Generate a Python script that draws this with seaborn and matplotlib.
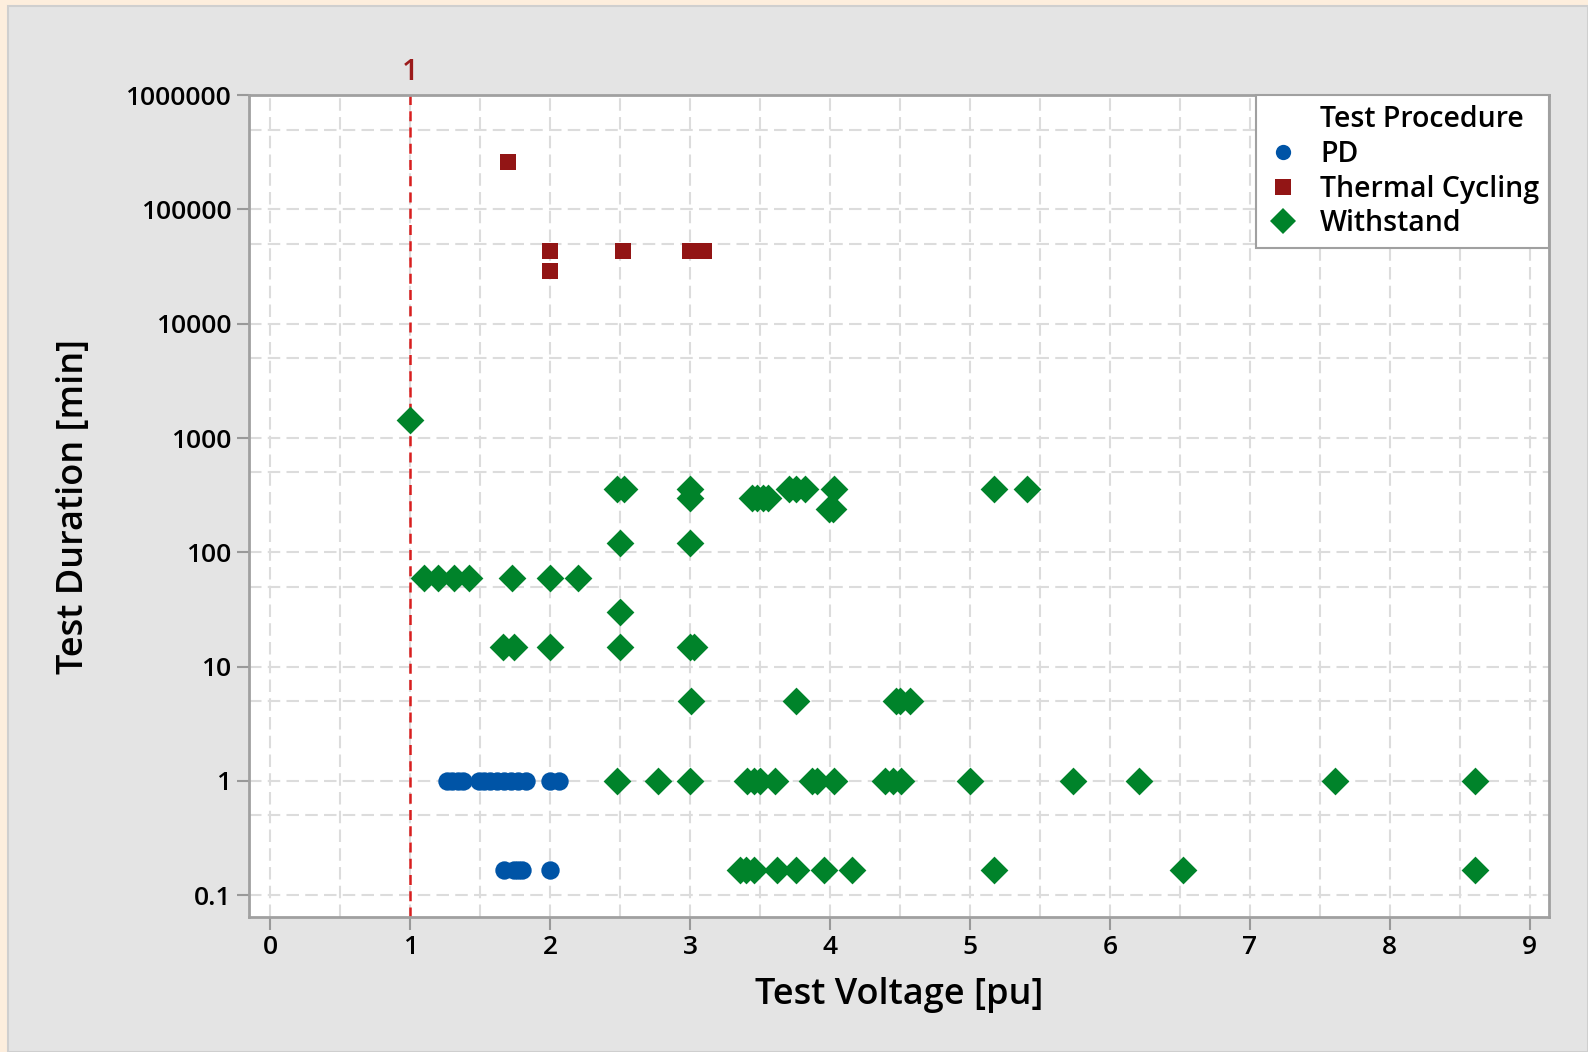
import matplotlib
matplotlib.use("Agg")
import matplotlib.pyplot as plt
import matplotlib.ticker as mticker
from matplotlib.lines import Line2D
from matplotlib.patches import Rectangle
import numpy as np
import pandas as pd
import seaborn as sns

# ---------------- data ----------------
pd_voltage = [1.26, 1.30, 1.34, 1.38, 1.49, 1.53, 1.57, 1.62, 1.67, 1.72, 1.77, 1.83, 2.00, 2.06,
              1.67, 1.74, 1.77, 1.80, 2.00]
pd_duration = [1] * 14 + [0.1667] * 5

tc_voltage = [1.70, 2.00, 2.00, 2.52, 3.00, 3.10]
tc_duration = [262800, 43200, 28800, 43200, 43200, 43200]

ws_voltage = [1.00,
              1.10, 1.20, 1.31, 1.42, 1.73, 2.00, 2.20,
              1.66, 1.74, 2.00, 2.50, 3.00, 3.03,
              2.50,
              2.50, 3.00,
              2.48, 2.53, 3.00, 3.71, 3.76, 3.82, 4.03, 5.17, 5.41,
              3.00, 3.44, 3.48, 3.52, 3.56,
              3.99, 4.02,
              3.01, 3.76, 4.47, 4.50, 4.57,
              2.48, 2.77, 3.00, 3.41, 3.46, 3.50, 3.61, 3.87, 3.91, 4.03, 4.39, 4.45, 4.51,
              5.00, 5.74, 6.21, 7.61, 8.61,
              3.36, 3.40, 3.46, 3.62, 3.76, 3.96, 4.16, 5.17, 6.52, 8.61]
ws_duration = ([1440] + [60] * 7 + [15] * 6 + [30] + [120] * 2 + [360] * 9 + [300] * 5 +
               [240] * 2 + [5] * 5 + [1] * 18 + [0.1667] * 10)

procedures = ["PD", "Thermal Cycling", "Withstand"]
x_ticks = [0, 1, 2, 3, 4, 5, 6, 7, 8, 9]
y_ticks = [0.1, 1, 10, 100, 1000, 10000, 100000, 1000000]
y_tick_labels = ["0.1", "1", "10", "100", "1000", "10000", "100000", "1000000"]
ref_voltage = 1

df = pd.DataFrame({
    "Test Voltage [pu]": pd_voltage + tc_voltage + ws_voltage,
    "Test Duration [min]": pd_duration + tc_duration + ws_duration,
    "Test Procedure": ["PD"] * len(pd_voltage) + ["Thermal Cycling"] * len(tc_voltage)
                      + ["Withstand"] * len(ws_voltage),
})

# ---------------- style ----------------
sns.set_theme(style="white")
plt.rcParams["font.family"] = ["Open Sans", "DejaVu Sans"]
plt.rcParams["font.weight"] = "semibold"
plt.rcParams["text.color"] = "black"
plt.rcParams["axes.labelcolor"] = "black"
plt.rcParams["axes.labelweight"] = "semibold"

colors = {"PD": "#0054a6", "Thermal Cycling": "#921515", "Withstand": "#00832a"}
markers = {"PD": "o", "Thermal Cycling": "s", "Withstand": "D"}
sizes = {"PD": 175, "Thermal Cycling": 140, "Withstand": 200}

fig = plt.figure(figsize=(15.88, 10.52), dpi=100)
fig.patch.set_facecolor("#fdeedd")
bg = Rectangle((8 / 1588, 0), 1 - 8 / 1588, 1 - 6 / 1052, transform=fig.transFigure,
               facecolor="#e4e4e4", edgecolor="#cfcfcf", linewidth=1.5, zorder=-10)
fig.add_artist(bg)
ax = fig.add_axes([0.157, 0.128, 0.8185, 0.7815])
ax.set_zorder(1)
ax.set_facecolor("white")

ax.set_yscale("log")
ax.set_xlim(-0.15, 9.14)
ax.set_ylim(0.064, 1000000)

# grid
grid_kw = dict(color="#dcdcdc", linewidth=1.5, linestyle=(0, (6, 3)), zorder=0.5)
for gx in np.arange(0, 9.01, 0.5):
    ax.axvline(gx, **grid_kw)
for e in range(-1, 6):
    ax.axhline(10.0 ** e, **grid_kw)
    ax.axhline(5 * 10.0 ** e, **grid_kw)

# reference line
ax.axvline(ref_voltage, color="#d81e1e", linewidth=1.8, linestyle=(0, (4, 2.5)), zorder=1)
ax.text(ref_voltage, 1.01, "1", transform=ax.get_xaxis_transform(), ha="center", va="bottom",
        color="#9b1b1b", fontsize=21, fontweight="semibold")

for proc in procedures:
    sub = df[df["Test Procedure"] == proc]
    sns.scatterplot(data=sub, x="Test Voltage [pu]", y="Test Duration [min]", ax=ax,
                    color=colors[proc], marker=markers[proc], s=sizes[proc],
                    linewidth=0, legend=False, zorder=3)

ax.set_xticks(x_ticks)
ax.set_xticklabels([str(t) for t in x_ticks])
ax.yaxis.set_major_locator(mticker.FixedLocator(y_ticks))
ax.yaxis.set_minor_locator(mticker.NullLocator())
ax.set_yticklabels(y_tick_labels)
ax.tick_params(axis="both", which="major", length=9, width=1.5, color="#999999",
               labelsize=19, labelcolor="black", pad=4, direction="out")
ax.tick_params(left=True, bottom=True)
for lbl in ax.get_xticklabels() + ax.get_yticklabels():
    lbl.set_fontweight("semibold")

for sp in ax.spines.values():
    sp.set_color("#a0a0a0")
    sp.set_linewidth(2)

ax.set_xlabel("Test Voltage [pu]", fontsize=26, labelpad=12, fontweight="semibold")
ax.set_ylabel("Test Duration [min]", fontsize=26, labelpad=24, fontweight="semibold")

handles = [Line2D([], [], linestyle="none", marker="none")]
for proc in procedures:
    handles.append(Line2D([], [], linestyle="none", marker=markers[proc], color=colors[proc],
                          markersize={"PD": 11, "Thermal Cycling": 11, "Withstand": 13}[proc],
                          markeredgewidth=0))
labels = ["Test Procedure"] + procedures
leg = ax.legend(handles, labels, loc="upper right", bbox_to_anchor=(1.0, 1.0), borderaxespad=0,
                prop={"size": 20.5, "weight": "semibold"}, frameon=True, fancybox=False,
                handlelength=1.2, handletextpad=0.7, labelspacing=0.2, borderpad=0.35)
leg.get_frame().set_edgecolor("#a0a0a0")
leg.get_frame().set_linewidth(1.5)
leg.get_frame().set_facecolor("white")
leg.get_frame().set_alpha(1)

fig.savefig("out.png", dpi=100, facecolor=fig.get_facecolor())
